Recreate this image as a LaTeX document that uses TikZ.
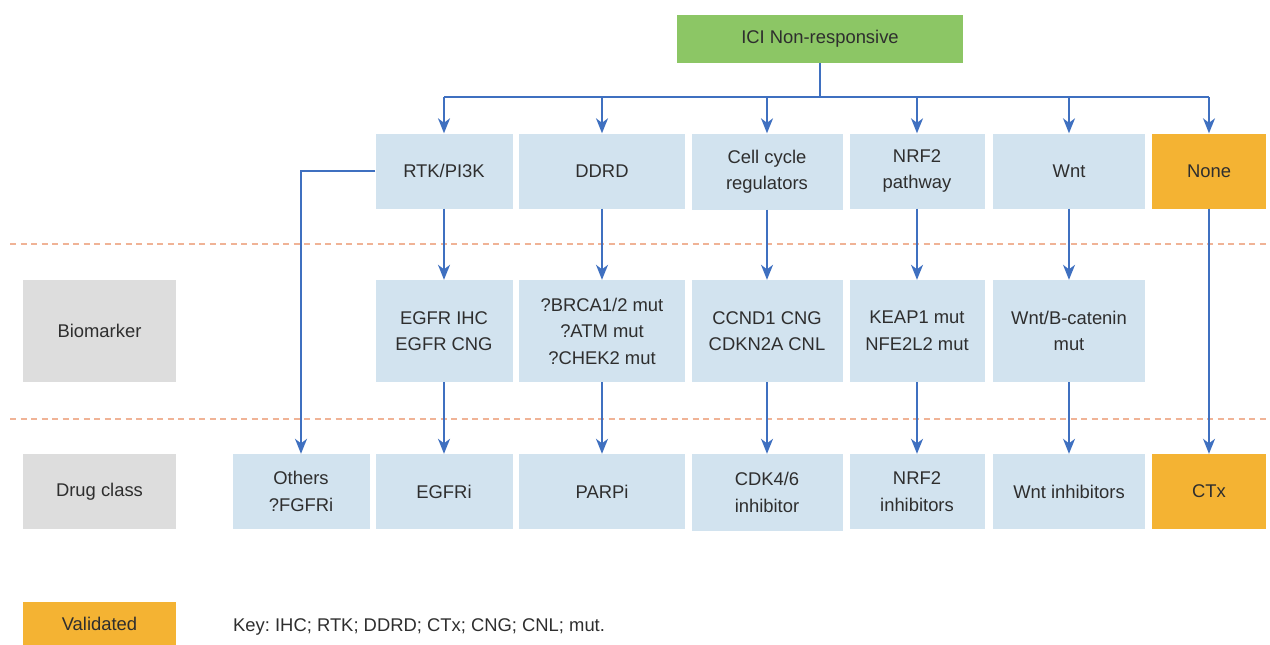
\documentclass[tikz,border=0pt]{standalone}
\usepackage{fontspec}
\setmainfont{Liberation Sans}
\usetikzlibrary{arrows.meta}
\frenchspacing
\definecolor{boxblue}{HTML}{D2E3EF}
\definecolor{boxorange}{HTML}{F4B333}
\definecolor{boxgreen}{HTML}{8CC665}
\definecolor{boxgray}{HTML}{DDDDDD}
\definecolor{linkblue}{HTML}{3F70C0}
\definecolor{dashorange}{HTML}{F0B396}
\definecolor{txt}{HTML}{2E2E2E}
\tikzset{
  base/.style={inner sep=0pt, align=center, text=txt, font=\fontsize{18.4}{26.5}\selectfont},
  bluebox/.style={base, fill=boxblue},
  orangebox/.style={base, fill=boxorange},
  greenbox/.style={base, fill=boxgreen},
  graybox/.style={base, fill=boxgray},
  arr/.style={draw=linkblue, line width=1.6pt, -{Stealth[length=15pt,width=12pt,inset=4.5pt]}},
  link/.style={draw=linkblue, line width=1.6pt},
  sep/.style={draw=dashorange, line width=1.2pt, dash pattern=on 6pt off 4.5pt}
}
\begin{document}
\begin{tikzpicture}[x=1pt,y=-1pt]
\useasboundingbox (0,0) rectangle (1270,645);
% separators
\draw[sep] (10,244) -- (1270,244);
\draw[sep] (10,419) -- (1270,419);
% top
\node[greenbox, minimum width=286pt, minimum height=48pt] (ici) at (820,39) {ICI Non-responsive};
% row 1
\node[bluebox, minimum width=137pt, minimum height=75pt] (rtk) at (444,171) {RTK/PI3K};
\node[bluebox, minimum width=166pt, minimum height=75pt] (ddrd) at (602,171) {DDRD};
\node[bluebox, minimum width=151pt, minimum height=76pt] (cell) at (767,171.5) {Cell cycle\\regulators};
\node[bluebox, minimum width=135pt, minimum height=75pt] (nrf) at (917,171) {NRF2\\pathway};
\node[bluebox, minimum width=152pt, minimum height=75pt] (wnt) at (1069,171) {Wnt};
\node[orangebox, minimum width=114pt, minimum height=75pt] (none) at (1209,171) {None};
% row 2
\node[graybox, minimum width=153pt, minimum height=102pt] (bio) at (99.5,331) {Biomarker};
\node[bluebox, minimum width=137pt, minimum height=102pt] (egfr) at (444,331) {EGFR IHC\\EGFR CNG};
\node[bluebox, minimum width=166pt, minimum height=102pt] (brca) at (602,331) {?BRCA1/2 mut\\?ATM mut\\?CHEK2 mut};
\node[bluebox, minimum width=151pt, minimum height=102pt] (ccnd) at (767,331) {CCND1 CNG\\CDKN2A CNL};
\node[bluebox, minimum width=135pt, minimum height=102pt] (keap) at (917,331) {KEAP1 mut\\NFE2L2 mut};
\node[bluebox, minimum width=152pt, minimum height=102pt] (wntb) at (1069,331) {Wnt/B-catenin\\mut};
% row 3
\node[graybox, minimum width=153pt, minimum height=75pt] (drug) at (99.5,491.5) {Drug class};
\node[bluebox, minimum width=137pt, minimum height=75pt] (others) at (301,491.5) {Others\\?FGFRi};
\node[bluebox, minimum width=137pt, minimum height=75pt] (egfri) at (444,491.5) {EGFRi};
\node[bluebox, minimum width=166pt, minimum height=75pt] (parpi) at (602,491.5) {PARPi};
\node[bluebox, minimum width=151pt, minimum height=77pt] (cdk) at (767,492.5) {CDK4/6\\inhibitor};
\node[bluebox, minimum width=135pt, minimum height=75pt] (nrfi) at (917,491.5) {NRF2\\inhibitors};
\node[bluebox, minimum width=152pt, minimum height=75pt] (wnti) at (1069,491.5) {Wnt inhibitors};
\node[orangebox, minimum width=114pt, minimum height=75pt] (ctx) at (1209,491.5) {CTx};
% legend
\node[orangebox, minimum width=153pt, minimum height=43pt] (valid) at (99.5,623.5) {Validated};
\node[base, anchor=west] (key) at (233,627) {Key: IHC; RTK; DDRD; CTx; CNG; CNL; mut.};
% connectors
\coordinate (bus) at (820,97);
\draw[link] (ici.south) -- (bus);
\draw[link] (rtk.north |- bus) -- (none.north |- bus);
\foreach \n in {rtk,ddrd,cell,nrf,wnt,none}{
  \draw[arr] (\n.north |- bus) -- (\n.north);
}
\draw[arr] (rtk.west) -| (others.north);
\draw[arr] (rtk) -- (egfr);
\draw[arr] (ddrd) -- (brca);
\draw[arr] (cell) -- (ccnd);
\draw[arr] (nrf) -- (keap);
\draw[arr] (wnt) -- (wntb);
\draw[arr] (egfr) -- (egfri);
\draw[arr] (brca) -- (parpi);
\draw[arr] (ccnd) -- (cdk);
\draw[arr] (keap) -- (nrfi);
\draw[arr] (wntb) -- (wnti);
\draw[arr] (none) -- (ctx);
\end{tikzpicture}
\end{document}
